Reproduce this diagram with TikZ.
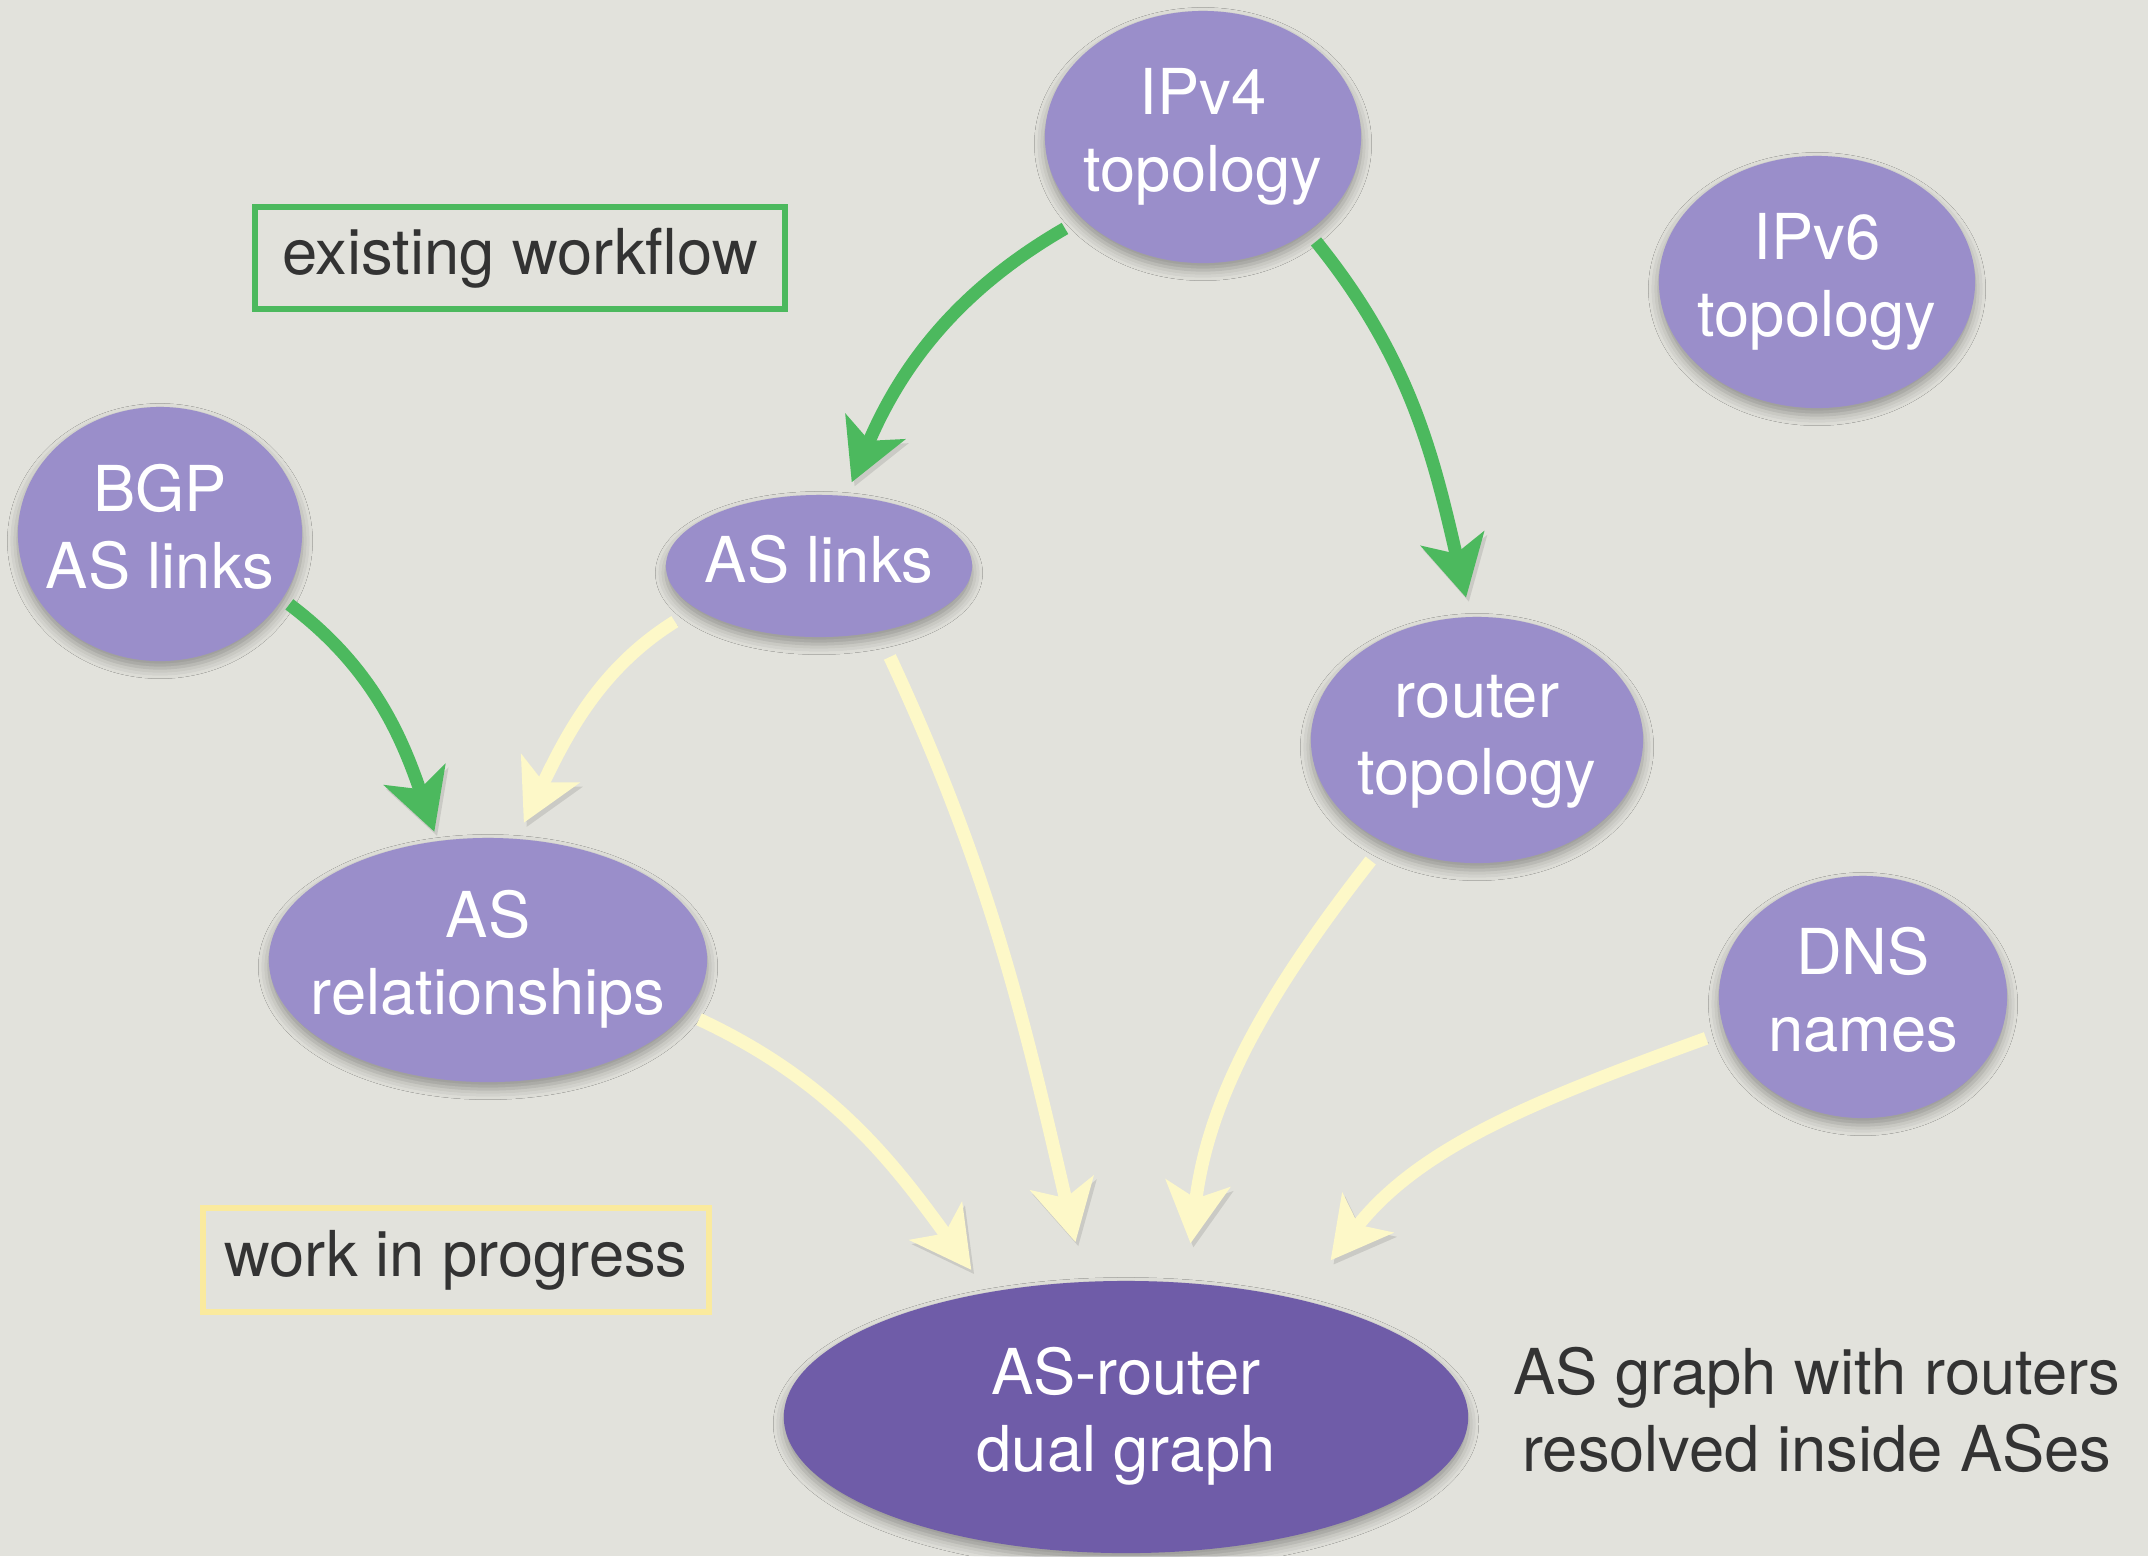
\documentclass[tikz,border=0pt]{standalone}
\usepackage{fontspec}
\setmainfont{TeX Gyre Heros}
\usetikzlibrary{arrows.meta,shapes.geometric,shadows.blur}

\definecolor{paper}{RGB}{226,226,220}
\definecolor{lilac}{RGB}{154,142,202}
\definecolor{deeplilac}{RGB}{111,92,168}
\definecolor{leaf}{RGB}{76,185,94}
\definecolor{cream}{RGB}{253,248,200}
\definecolor{creamedge}{RGB}{250,234,158}
\definecolor{ink}{RGB}{51,51,51}

% centred multi-line label that does not enlarge its shape
\newcommand\mlabel[1]{\raisebox{-9pt}{\smash{\makebox[0pt]{\begin{tabular}{@{}c@{}}#1\end{tabular}}}}}

\tikzset{
  bubble/.style={ellipse, fill=lilac, text=white, inner sep=0pt, outer sep=0pt,
    blur shadow={shadow xshift=0pt, shadow yshift=-2pt, shadow blur radius=3pt, shadow opacity=35}},
  legendbox/.style={draw, line width=0.055cm, fill=none, text=ink, inner sep=0pt},
  flow/.style={line width=0.13cm,
    -{Stealth[length=0.60cm, width=0.64cm, inset=0.15cm]},
    preaction={draw=black, draw opacity=0.10, fill opacity=0.10,
      transform canvas={xshift=0.8pt, yshift=-1.2pt}}},
  doneflow/.style={flow, draw=leaf},
  newflow/.style={flow, draw=cream},
}

\begin{document}
\begin{tikzpicture}[x=0.01cm, y=-0.01cm, font=\fontsize{18}{22}\selectfont]
  \fill[paper] (0,0) rectangle (2148,1556);
  \useasboundingbox (0,0) rectangle (2148,1556);

  % data sets
  \node[bubble, minimum width=3.16cm, minimum height=2.52cm] (ipv4) at (1203,137) {\mlabel{IPv4\\topology}};
  \node[bubble, minimum width=3.16cm, minimum height=2.52cm] (ipv6) at (1817,282) {\mlabel{IPv6\\topology}};
  \node[bubble, minimum width=2.84cm, minimum height=2.54cm] (bgp) at (160,534) {\mlabel{BGP\\AS links}};
  \node[bubble, minimum width=3.06cm, minimum height=1.42cm] (aslinks) at (819,566) {\mlabel{AS links}};
  \node[bubble, minimum width=3.32cm, minimum height=2.46cm] (router) at (1477,740) {\mlabel{router\\topology}};
  \node[bubble, minimum width=4.38cm, minimum height=2.44cm] (asrel) at (488,960) {\mlabel{AS\\relationships}};
  \node[bubble, minimum width=2.88cm, minimum height=2.42cm] (dns) at (1863,997) {\mlabel{DNS\\names}};
  \node[bubble, fill=deeplilac, minimum width=6.84cm, minimum height=2.72cm] (dual) at (1126,1417) {\mlabel{AS-router\\dual graph}};

  % legend and caption
  \node[legendbox, draw=leaf, minimum width=5.30cm, minimum height=1.02cm] (legdone) at (520,258) {\mlabel{existing workflow}};
  \node[legendbox, draw=creamedge, minimum width=5.06cm, minimum height=1.04cm] (legnew) at (456,1260) {\mlabel{work in progress}};
  \node[text=ink, inner sep=0pt] (caption) at (1817,1417) {\mlabel{AS graph with routers\\resolved inside ASes}};

  % existing workflow
  \draw[doneflow, shorten <=0.20cm, shorten >=0.15cm] (ipv4.214) to[out=210, in=67] (aslinks.69);
  \draw[doneflow, shorten <=0.13cm, shorten >=0.20cm] (ipv4.-42) to[out=-51, in=103] (router.93);
  \draw[doneflow, shorten <=0.09cm, shorten >=0.10cm] (bgp.-28) to[out=-37, in=109] (asrel.113);

  % work in progress
  \draw[newflow, shorten <=0.25cm, shorten >=0.18cm] (aslinks.199) to[out=212, in=64] (asrel.77);
  \draw[newflow, shorten <=0.28cm, shorten >=0.41cm] (aslinks.-48) to[out=-65, in=103] (dual.107);
  \draw[newflow, shorten <=0.15cm, shorten >=0.28cm] (asrel.-15) to[out=-25, in=126] (dual.138);
  \draw[newflow, shorten <=0.23cm, shorten >=0.40cm] (router.228) to[out=232, in=83] (dual.66);
  \draw[newflow, shorten <=0.20cm, shorten >=0.50cm] (dns.194) to[out=200, in=52] (dual.34);
\end{tikzpicture}
\end{document}
